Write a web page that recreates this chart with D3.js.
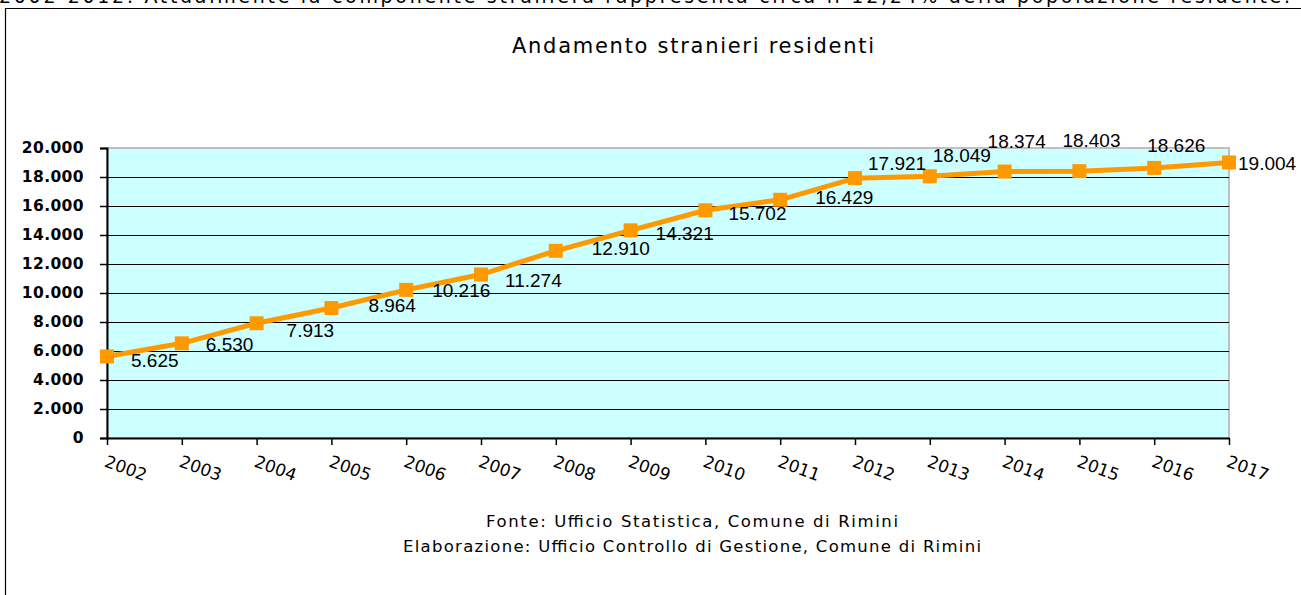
<!DOCTYPE html>
<html>
<head>
<meta charset="utf-8">
<script src="https://cdn.jsdelivr.net/npm/d3@7"></script>
<style>
  body { margin: 0; background: #ffffff; }
  svg { display: block; }
</style>
</head>
<body>
<script>
const width = 1301, height = 595;

// data
const years = ['2002','2003','2004','2005','2006','2007','2008','2009','2010','2011','2012','2013','2014','2015','2016','2017'];
const residents = [5625, 6530, 7913, 8964, 10216, 11274, 12910, 14321, 15702, 16429, 17921, 18049, 18374, 18403, 18626, 19004];
const yTicks = [0, 2000, 4000, 6000, 8000, 10000, 12000, 14000, 16000, 18000, 20000];

const introText = "2002-2012. Attualmente la componente straniera rappresenta circa il 12,24% della popolazione residente.";
const titleText = "Andamento stranieri residenti";
const sourceLines = ["Fonte: Ufficio Statistica, Comune di Rimini",
                     "Elaborazione: Ufficio Controllo di Gestione, Comune di Rimini"];

// where each value label sits relative to its marker (start x, middle y)
const labelShift = [[24,4],[24,1],[30,7],[37,-3],[26,0],[24,6],[36,-3],[25,3],[23,3],[35,-3],[13,-15],[3,-21],[-17,-30],[-17,-31],[-7,-23],[9,1]];

const plot = {left: 107, right: 1229, top: 148, bottom: 438};

const it = d3.formatLocale({decimal: ",", thousands: ".", grouping: [3], currency: ["€", ""]});
const fmt = it.format(",d");

const svg = d3.select("body").append("svg")
    .attr("width", width)
    .attr("height", height);

svg.append("rect")
    .attr("width", width).attr("height", height)
    .style("fill", "#ffffff");

// text of the page above, cut by the top edge
svg.append("text")
    .attr("x", -1).attr("y", 3)
    .attr("textLength", 1291)
    .style("font-family", "DejaVu Sans")
    .style("font-size", "19px")
    .style("fill", "#000")
    .text(introText);

// chart frame
svg.append("path")
    .attr("d", "M5.5," + height + "V8.5H" + width)
    .style("fill", "none")
    .style("stroke", "#000")
    .style("stroke-width", 1.2);

svg.append("text")
    .attr("x", 693).attr("y", 53)
    .attr("text-anchor", "middle")
    .attr("textLength", 362)
    .style("font-family", "DejaVu Sans")
    .style("font-size", "21px")
    .style("fill", "#000")
    .text(titleText);

var x = d3.scalePoint().domain(years).range([plot.left, plot.right]);
var y = d3.scaleLinear().domain([0, 20000]).range([plot.bottom, plot.top]);

// plot area
svg.append("rect")
    .attr("x", plot.left).attr("y", plot.top)
    .attr("width", plot.right - plot.left)
    .attr("height", plot.bottom - plot.top)
    .style("fill", "#ccffff")
    .style("stroke", "#c0c0c0")
    .style("stroke-width", 2);

// gridlines
svg.append("g")
    .selectAll("line")
    .data(yTicks.filter(function(d) { return d > 0 && d < 20000; }))
    .enter().append("line")
    .attr("x1", plot.left).attr("x2", plot.right)
    .attr("y1", function(d) { return Math.round(y(d)) + 0.5; })
    .attr("y2", function(d) { return Math.round(y(d)) + 0.5; })
    .style("stroke", "#000")
    .style("stroke-width", 1);

// Y axis
var yAxis = svg.append("g")
    .attr("transform", "translate(" + plot.left + ",0)")
    .call(d3.axisLeft(y).tickValues(yTicks).tickSize(7).tickPadding(16).tickFormat(fmt));
yAxis.select(".domain").style("stroke", "#000").style("stroke-width", 2);
yAxis.selectAll(".tick line").style("stroke", "#000").style("stroke-width", 1.5);
yAxis.selectAll(".tick text")
    .style("font-family", "DejaVu Sans")
    .style("font-size", "15.5px")
    .style("font-weight", "bold")
    .style("letter-spacing", "0.4px")
    .style("fill", "#000");

// X axis
var xAxis = svg.append("g")
    .attr("transform", "translate(0," + plot.bottom + ")")
    .call(d3.axisBottom(x).tickSize(7).tickSizeOuter(0));
xAxis.select(".domain").style("stroke", "#000").style("stroke-width", 2);
xAxis.selectAll(".tick line").style("stroke", "#000").style("stroke-width", 1.5);
xAxis.selectAll(".tick text")
    .attr("x", 6).attr("y", 28).attr("dy", 0)
    .attr("text-anchor", "start")
    .attr("transform", "rotate(20)")
    .style("font-family", "DejaVu Sans")
    .style("font-size", "17px")
    .style("fill", "#000");

// the line
var line = d3.line()
    .x(function(d, i) { return x(years[i]); })
    .y(function(d) { return y(d); });

svg.append("path")
    .datum(residents)
    .attr("d", line)
    .style("fill", "none")
    .style("stroke", "#ff9900")
    .style("stroke-width", 5);

// square markers
svg.selectAll(".dot")
    .data(residents)
    .enter().append("rect")
    .attr("class", "dot")
    .attr("x", function(d, i) { return x(years[i]) - 7; })
    .attr("y", function(d) { return y(d) - 7; })
    .attr("width", 14).attr("height", 14)
    .style("fill", "#ff9900");

// value labels
svg.selectAll(".lbl")
    .data(residents)
    .enter().append("text")
    .attr("class", "lbl")
    .attr("x", function(d, i) { return x(years[i]) + labelShift[i][0]; })
    .attr("y", function(d, i) { return y(d) + labelShift[i][1]; })
    .attr("dy", "0.36em")
    .style("font-family", "Liberation Sans")
    .style("font-size", "19px")
    .style("fill", "#000")
    .text(function(d) { return fmt(d); });

// source notes
const sourceWidths = [412, 578];
svg.append("g")
    .selectAll("text")
    .data(sourceLines)
    .enter().append("text")
    .attr("x", 692)
    .attr("y", function(d, i) { return 527 + i * 25; })
    .attr("text-anchor", "middle")
    .attr("textLength", function(d, i) { return sourceWidths[i]; })
    .style("font-family", "DejaVu Sans")
    .style("font-size", "16.5px")
    .style("fill", "#000")
    .text(function(d) { return d; });
</script>
</body>
</html>
